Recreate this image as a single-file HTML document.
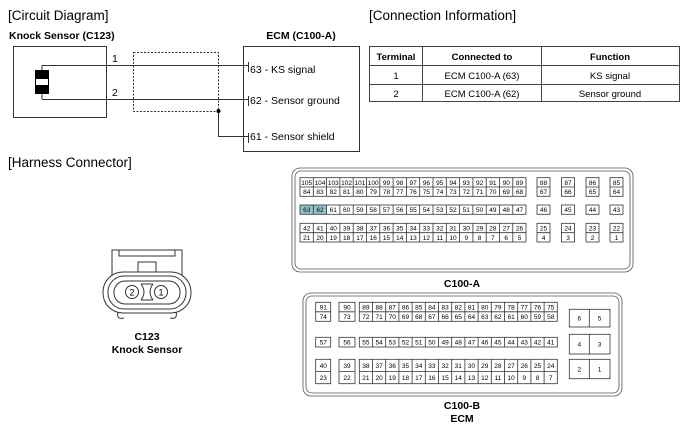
<!DOCTYPE html>
<html><head><meta charset="utf-8"><style>
html,body{margin:0;padding:0;background:#fff;}
svg{display:block;font-family:"Liberation Sans",Arial,sans-serif;}
</style></head><body>
<svg width="689" height="431" viewBox="0 0 689 431" xmlns="http://www.w3.org/2000/svg">
<g fill="#000">
<text x="8" y="20" font-size="13.5">[Circuit Diagram]</text>
<text x="369" y="20" font-size="13.5">[Connection Information]</text>
<text x="8" y="167" font-size="13.5">[Harness Connector]</text>
<text x="9" y="39" font-size="10.5" font-weight="bold">Knock Sensor (C123)</text>
<text x="301" y="39" font-size="10.5" font-weight="bold" text-anchor="middle">ECM (C100-A)</text>
</g>
<!-- circuit -->
<g fill="none" stroke="#333" stroke-width="1">
<rect x="13.5" y="46.5" width="93" height="71"/>
<rect x="243.5" y="46.5" width="116" height="105"/>
<rect x="133.5" y="52.5" width="85" height="59" stroke-dasharray="2,1.5"/>
<path d="M42 65.5H248M42 99.5H248M42 65V70M42 94V99"/>
<path d="M218.5 111V136.5H248"/>
<path d="M248.5 62V72M248.5 96V106M248.5 133V143"/>
</g>
<circle cx="218.5" cy="111" r="2" fill="#000"/>
<rect x="35" y="70" width="14" height="24" fill="#000"/>
<rect x="36" y="79" width="12" height="6" fill="#fff"/>
<g font-size="10.5" fill="#000">
<text x="112" y="62">1</text>
<text x="112" y="96">2</text>
<text x="250" y="73">63 - KS signal</text>
<text x="250" y="104">62 - Sensor ground</text>
<text x="250" y="140">61 - Sensor shield</text>
</g>
<!-- table -->
<g fill="none" stroke="#444" stroke-width="1">
<rect x="369.5" y="46.5" width="310" height="55"/>
<path d="M369 65.5H679M369 84.5H679M422.5 46V101M541.5 46V101"/>
</g>
<g font-size="9.5" text-anchor="middle" fill="#000">
<text x="396" y="60" font-weight="bold">Terminal</text>
<text x="482" y="60" font-weight="bold">Connected to</text>
<text x="610" y="60" font-weight="bold">Function</text>
<text x="396" y="79">1</text><text x="482" y="79">ECM C100-A (63)</text><text x="610" y="79">KS signal</text>
<text x="396" y="97">2</text><text x="482" y="97">ECM C100-A (62)</text><text x="610" y="97">Sensor ground</text>
</g>
<!-- C123 connector -->
<g fill="none" stroke="#333" stroke-width="1">
<path d="M112 275V250H182V275"/>
<path d="M119 250V256H175V250"/>
<rect x="138" y="262" width="18" height="10"/>
<rect x="103" y="272" width="88" height="41" rx="20"/>
<rect x="108" y="276" width="78" height="33" rx="16"/>
<rect x="114" y="281" width="66" height="23" rx="11"/>
<path d="M118 312Q116 320 124 318M176 312Q178 320 170 318"/>
<path d="M141 284Q147 292 141 300M153 284Q147 292 153 300M141 284H153M141 300H153"/>
<circle cx="132" cy="292" r="6.5"/>
<circle cx="161" cy="292" r="6.5"/>
</g>
<g font-size="9" text-anchor="middle"><text x="132" y="295.5">2</text><text x="161" y="295.5">1</text></g>
<g font-size="10.5" font-weight="bold" text-anchor="middle">
<text x="147" y="340">C123</text><text x="147" y="353">Knock Sensor</text>
<text x="462" y="287">C100-A</text>
<text x="462" y="409">C100-B</text><text x="462" y="422">ECM</text>
</g>
<!-- C100-A -->
<g fill="none" stroke="#555" stroke-width="0.8">
<rect x="292" y="168" width="341" height="104" rx="8"/>
<rect x="295" y="171" width="335" height="98" rx="6"/>
</g>
<rect x="300" y="205" width="26.6" height="9.3" fill="#8fc3c8"/>
<g fill="none" stroke="#333" stroke-width="0.8">
<rect x="300" y="177.7" width="226" height="18.6"/><path d="M300 187H526"/>
<rect x="300" y="205" width="226" height="9.3"/>
<rect x="300" y="223.3" width="226" height="18.7"/><path d="M300 232.7H526"/>
<path d="M313.3 177.7V196.3M326.6 177.7V196.3M339.9 177.7V196.3M353.2 177.7V196.3M366.5 177.7V196.3M379.8 177.7V196.3M393.1 177.7V196.3M406.4 177.7V196.3M419.7 177.7V196.3M433 177.7V196.3M446.3 177.7V196.3M459.6 177.7V196.3M472.9 177.7V196.3M486.2 177.7V196.3M499.5 177.7V196.3M512.8 177.7V196.3"/>
<path d="M313.3 205V214.3M326.6 205V214.3M339.9 205V214.3M353.2 205V214.3M366.5 205V214.3M379.8 205V214.3M393.1 205V214.3M406.4 205V214.3M419.7 205V214.3M433 205V214.3M446.3 205V214.3M459.6 205V214.3M472.9 205V214.3M486.2 205V214.3M499.5 205V214.3M512.8 205V214.3"/>
<path d="M313.3 223.3V242M326.6 223.3V242M339.9 223.3V242M353.2 223.3V242M366.5 223.3V242M379.8 223.3V242M393.1 223.3V242M406.4 223.3V242M419.7 223.3V242M433 223.3V242M446.3 223.3V242M459.6 223.3V242M472.9 223.3V242M486.2 223.3V242M499.5 223.3V242M512.8 223.3V242"/>
<rect x="537" y="177.7" width="13" height="18.6"/><rect x="561.5" y="177.7" width="13" height="18.6"/><rect x="586" y="177.7" width="13" height="18.6"/><rect x="610" y="177.7" width="13" height="18.6"/>
<path d="M537 187H550M561.5 187H574.5M586 187H599M610 187H623"/>
<rect x="537" y="205" width="13" height="9.3"/><rect x="561.5" y="205" width="13" height="9.3"/><rect x="586" y="205" width="13" height="9.3"/><rect x="610" y="205" width="13" height="9.3"/>
<rect x="537" y="223.3" width="13" height="18.7"/><rect x="561.5" y="223.3" width="13" height="18.7"/><rect x="586" y="223.3" width="13" height="18.7"/><rect x="610" y="223.3" width="13" height="18.7"/>
<path d="M537 232.7H550M561.5 232.7H574.5M586 232.7H599M610 232.7H623"/>
</g>
<g font-size="6.5" text-anchor="middle" fill="#000">
<text y="185"><tspan x="306.7">105</tspan><tspan x="320">104</tspan><tspan x="333.3">103</tspan><tspan x="346.6">102</tspan><tspan x="359.9">101</tspan><tspan x="373.2">100</tspan><tspan x="386.5">99</tspan><tspan x="399.8">98</tspan><tspan x="413.1">97</tspan><tspan x="426.4">96</tspan><tspan x="439.7">95</tspan><tspan x="453">94</tspan><tspan x="466.3">93</tspan><tspan x="479.6">92</tspan><tspan x="492.9">91</tspan><tspan x="506.2">90</tspan><tspan x="519.5">89</tspan><tspan x="543.5">88</tspan><tspan x="568">87</tspan><tspan x="592.5">86</tspan><tspan x="616.5">85</tspan></text>
<text y="194"><tspan x="306.7">84</tspan><tspan x="320">83</tspan><tspan x="333.3">82</tspan><tspan x="346.6">81</tspan><tspan x="359.9">80</tspan><tspan x="373.2">79</tspan><tspan x="386.5">78</tspan><tspan x="399.8">77</tspan><tspan x="413.1">76</tspan><tspan x="426.4">75</tspan><tspan x="439.7">74</tspan><tspan x="453">73</tspan><tspan x="466.3">72</tspan><tspan x="479.6">71</tspan><tspan x="492.9">70</tspan><tspan x="506.2">69</tspan><tspan x="519.5">68</tspan><tspan x="543.5">67</tspan><tspan x="568">66</tspan><tspan x="592.5">65</tspan><tspan x="616.5">64</tspan></text>
<text y="212"><tspan x="306.7">63</tspan><tspan x="320">62</tspan><tspan x="333.3">61</tspan><tspan x="346.6">60</tspan><tspan x="359.9">59</tspan><tspan x="373.2">58</tspan><tspan x="386.5">57</tspan><tspan x="399.8">56</tspan><tspan x="413.1">55</tspan><tspan x="426.4">54</tspan><tspan x="439.7">53</tspan><tspan x="453">52</tspan><tspan x="466.3">51</tspan><tspan x="479.6">50</tspan><tspan x="492.9">49</tspan><tspan x="506.2">48</tspan><tspan x="519.5">47</tspan><tspan x="543.5">46</tspan><tspan x="568">45</tspan><tspan x="592.5">44</tspan><tspan x="616.5">43</tspan></text>
<text y="230.5"><tspan x="306.7">42</tspan><tspan x="320">41</tspan><tspan x="333.3">40</tspan><tspan x="346.6">39</tspan><tspan x="359.9">38</tspan><tspan x="373.2">37</tspan><tspan x="386.5">36</tspan><tspan x="399.8">35</tspan><tspan x="413.1">34</tspan><tspan x="426.4">33</tspan><tspan x="439.7">32</tspan><tspan x="453">31</tspan><tspan x="466.3">30</tspan><tspan x="479.6">29</tspan><tspan x="492.9">28</tspan><tspan x="506.2">27</tspan><tspan x="519.5">26</tspan><tspan x="543.5">25</tspan><tspan x="568">24</tspan><tspan x="592.5">23</tspan><tspan x="616.5">22</tspan></text>
<text y="240"><tspan x="306.7">21</tspan><tspan x="320">20</tspan><tspan x="333.3">19</tspan><tspan x="346.6">18</tspan><tspan x="359.9">17</tspan><tspan x="373.2">16</tspan><tspan x="386.5">15</tspan><tspan x="399.8">14</tspan><tspan x="413.1">13</tspan><tspan x="426.4">12</tspan><tspan x="439.7">11</tspan><tspan x="453">10</tspan><tspan x="466.3">9</tspan><tspan x="479.6">8</tspan><tspan x="492.9">7</tspan><tspan x="506.2">6</tspan><tspan x="519.5">5</tspan><tspan x="543.5">4</tspan><tspan x="568">3</tspan><tspan x="592.5">2</tspan><tspan x="616.5">1</tspan></text>
</g>
<!-- C100-B -->
<g fill="none" stroke="#555" stroke-width="0.8">
<rect x="303" y="293" width="319" height="103" rx="8"/>
<rect x="306" y="296" width="313" height="97" rx="6"/>
</g>
<g fill="none" stroke="#333" stroke-width="0.8">
<rect x="315.7" y="302.3" width="15" height="19"/><rect x="339" y="302.3" width="16" height="19"/><rect x="359.3" y="302.3" width="198" height="19"/>
<path d="M315.7 311.8H330.7M339 311.8H355M359.3 311.8H557.3"/>
<rect x="315.7" y="337.3" width="15" height="9.7"/><rect x="339" y="337.3" width="16" height="9.7"/><rect x="359.3" y="337.3" width="198" height="9.7"/>
<rect x="315.7" y="359.3" width="15" height="24.4"/><rect x="339" y="359.3" width="16" height="24.4"/><rect x="359.3" y="359.3" width="198" height="24.4"/>
<path d="M315.7 371.5H330.7M339 371.5H355M359.3 371.5H557.3"/>
<path d="M372.5 302.3V321.3M385.7 302.3V321.3M398.9 302.3V321.3M412.1 302.3V321.3M425.3 302.3V321.3M438.5 302.3V321.3M451.7 302.3V321.3M464.9 302.3V321.3M478.1 302.3V321.3M491.3 302.3V321.3M504.5 302.3V321.3M517.7 302.3V321.3M530.9 302.3V321.3M544.1 302.3V321.3"/>
<path d="M372.5 337.3V347M385.7 337.3V347M398.9 337.3V347M412.1 337.3V347M425.3 337.3V347M438.5 337.3V347M451.7 337.3V347M464.9 337.3V347M478.1 337.3V347M491.3 337.3V347M504.5 337.3V347M517.7 337.3V347M530.9 337.3V347M544.1 337.3V347"/>
<path d="M372.5 359.3V383.7M385.7 359.3V383.7M398.9 359.3V383.7M412.1 359.3V383.7M425.3 359.3V383.7M438.5 359.3V383.7M451.7 359.3V383.7M464.9 359.3V383.7M478.1 359.3V383.7M491.3 359.3V383.7M504.5 359.3V383.7M517.7 359.3V383.7M530.9 359.3V383.7M544.1 359.3V383.7"/>
<rect x="569.3" y="309.3" width="40.7" height="17.7"/><rect x="569.3" y="334.3" width="40.7" height="19.7"/><rect x="569.3" y="359.3" width="40.7" height="19.4"/>
<path d="M589.3 309.3V327M589.3 334.3V354M589.3 359.3V378.7"/>
</g>
<g font-size="6.5" text-anchor="middle" fill="#000">
<text y="309.5"><tspan x="323.2">91</tspan><tspan x="347">90</tspan><tspan x="365.9">89</tspan><tspan x="379.1">88</tspan><tspan x="392.3">87</tspan><tspan x="405.5">86</tspan><tspan x="418.7">85</tspan><tspan x="431.9">84</tspan><tspan x="445.1">83</tspan><tspan x="458.3">82</tspan><tspan x="471.5">81</tspan><tspan x="484.7">80</tspan><tspan x="497.9">79</tspan><tspan x="511.1">78</tspan><tspan x="524.3">77</tspan><tspan x="537.5">76</tspan><tspan x="550.7">75</tspan></text>
<text y="319"><tspan x="323.2">74</tspan><tspan x="347">73</tspan><tspan x="365.9">72</tspan><tspan x="379.1">71</tspan><tspan x="392.3">70</tspan><tspan x="405.5">69</tspan><tspan x="418.7">68</tspan><tspan x="431.9">67</tspan><tspan x="445.1">66</tspan><tspan x="458.3">65</tspan><tspan x="471.5">64</tspan><tspan x="484.7">63</tspan><tspan x="497.9">62</tspan><tspan x="511.1">61</tspan><tspan x="524.3">60</tspan><tspan x="537.5">59</tspan><tspan x="550.7">58</tspan></text>
<text y="344.5"><tspan x="323.2">57</tspan><tspan x="347">56</tspan><tspan x="365.9">55</tspan><tspan x="379.1">54</tspan><tspan x="392.3">53</tspan><tspan x="405.5">52</tspan><tspan x="418.7">51</tspan><tspan x="431.9">50</tspan><tspan x="445.1">49</tspan><tspan x="458.3">48</tspan><tspan x="471.5">47</tspan><tspan x="484.7">46</tspan><tspan x="497.9">45</tspan><tspan x="511.1">44</tspan><tspan x="524.3">43</tspan><tspan x="537.5">42</tspan><tspan x="550.7">41</tspan></text>
<text y="368"><tspan x="323.2">40</tspan><tspan x="347">39</tspan><tspan x="365.9">38</tspan><tspan x="379.1">37</tspan><tspan x="392.3">36</tspan><tspan x="405.5">35</tspan><tspan x="418.7">34</tspan><tspan x="431.9">33</tspan><tspan x="445.1">32</tspan><tspan x="458.3">31</tspan><tspan x="471.5">30</tspan><tspan x="484.7">29</tspan><tspan x="497.9">28</tspan><tspan x="511.1">27</tspan><tspan x="524.3">26</tspan><tspan x="537.5">25</tspan><tspan x="550.7">24</tspan></text>
<text y="380"><tspan x="323.2">23</tspan><tspan x="347">22</tspan><tspan x="365.9">21</tspan><tspan x="379.1">20</tspan><tspan x="392.3">19</tspan><tspan x="405.5">18</tspan><tspan x="418.7">17</tspan><tspan x="431.9">16</tspan><tspan x="445.1">15</tspan><tspan x="458.3">14</tspan><tspan x="471.5">13</tspan><tspan x="484.7">12</tspan><tspan x="497.9">11</tspan><tspan x="511.1">10</tspan><tspan x="524.3">9</tspan><tspan x="537.5">8</tspan><tspan x="550.7">7</tspan></text>
<text y="320.5"><tspan x="579.3">6</tspan><tspan x="599.6">5</tspan></text>
<text y="346.5"><tspan x="579.3">4</tspan><tspan x="599.6">3</tspan></text>
<text y="371.5"><tspan x="579.3">2</tspan><tspan x="599.6">1</tspan></text>
</g>
</svg>
</body></html>
